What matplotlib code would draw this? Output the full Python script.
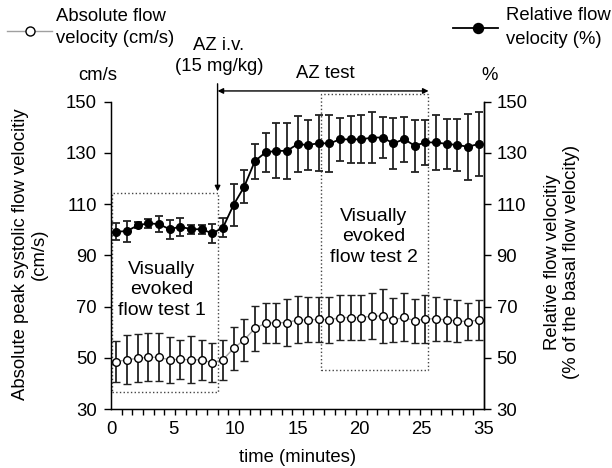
"""
Flow velocity before / after AZ i.v. (absolute and relative), with error bars
"""

import numpy as np
import matplotlib
matplotlib.use('Agg')
import matplotlib.pyplot as plt
from matplotlib.patches import Rectangle
from matplotlib.lines import Line2D

plt.rcParams['font.family'] = ['Liberation Sans', 'DejaVu Sans']

# Data, one sample per minute slot
minutes = np.arange(0.5, 35, 1.0)
abs_mean = [48.5, 49.2, 49.8, 50.2, 50.2, 49.2, 49.4, 49.2, 49.2, 48.1, 49.2,
            53.7, 57.0, 61.5, 63.5, 63.7, 63.7, 64.8, 64.8, 65.0, 64.8, 65.7,
            65.7, 65.7, 66.3, 66.3, 64.8, 65.8, 64.4, 65.2, 65.2, 64.8, 64.4,
            64.1, 64.8]
abs_err = [7.9, 9.6, 9.3, 9.3, 9.4, 9.1, 7.7, 9.2, 7.7, 7.7, 7.7,
           8.5, 8.1, 8.9, 7.9, 7.8, 9.2, 9.2, 8.8, 8.8, 9.1, 8.8,
           8.8, 8.9, 8.9, 10.4, 8.5, 9.4, 8.5, 9.3, 8.6, 8.3, 8.3,
           7.3, 7.9]
rel_mean = [99.2, 99.5, 101.7, 102.5, 102.2, 100.2, 101.2, 100.2, 100.2, 98.6,
            100.8, 109.7, 116.8, 126.8, 130.2, 130.8, 130.8, 133.4, 133.1, 133.8,
            133.7, 135.3, 135.3, 135.3, 136.0, 136.0, 133.7, 135.4, 132.8, 134.1,
            134.1, 133.5, 133.1, 132.4, 133.5]
rel_err = [3.4, 4.1, 1.2, 1.8, 3.0, 3.7, 3.5, 1.8, 1.8, 3.6,
           3.8, 8.1, 6.4, 6.8, 7.6, 10.7, 11.0, 11.0, 9.8, 11.0,
           11.2, 8.3, 9.3, 9.4, 9.9, 8.0, 9.8, 8.8, 10.2, 8.8,
           10.7, 9.8, 10.1, 12.9, 12.6]

x_tick_labels = ['0', '5', '10', '15', '20', '25', '35']
y_ticks = [30, 50, 70, 90, 110, 130, 150]

# Event / test windows (x in minute slots, y in axis units)
az_time = 10.0
az_test_end = 29.8
test1_box = (0.12, 36.8, 10.0, 114.5)   # x0, y0, x1, y1
test2_box = (19.66, 45.2, 29.7, 152.9)

FS = 13.3
W, H = 612, 468

fig = plt.figure(figsize=(W / 100, H / 100), dpi=100)
ax = fig.add_axes([111 / W, 1 - 409 / H, (484 - 111) / W, (409 - 101.7) / H])

# Series
ax.errorbar(minutes, abs_mean, yerr=abs_err, fmt='-o', color='#a0a0a0', lw=1.0,
            ecolor='#222222', elinewidth=1.3, capsize=3.2, capthick=1.3,
            marker='o', ms=5.5, mfc='white', mec='black', mew=1.0, zorder=3)
ax.errorbar(minutes, rel_mean, yerr=rel_err, fmt='-o', color='black', lw=1.3,
            ecolor='#222222', elinewidth=1.3, capsize=3.2, capthick=1.3,
            marker='o', ms=5.5, mfc='black', mec='black', zorder=4)

# Dotted test boxes
for x0, y0, x1, y1 in (test1_box, test2_box):
    ax.add_patch(Rectangle((x0, y0), x1 - x0, y1 - y0, fill=False, ls=':',
                           lw=1.0, ec='#444444', clip_on=False, zorder=1))

ax.text((test1_box[0] + test1_box[2]) / 2 - 0.3, 76.5, 'Visually\nevoked\nflow test 1',
        ha='center', va='center', fontsize=14, linespacing=1.28)
ax.text((test2_box[0] + test2_box[2]) / 2, 97.3, 'Visually\nevoked\nflow test 2',
        ha='center', va='center', fontsize=14, linespacing=1.28)

# AZ injection arrow and AZ test span
ax.annotate('', xy=(az_time, test1_box[3] + 0.5), xytext=(az_time, 157.0),
            arrowprops=dict(arrowstyle='-|>', color='black', lw=1.0,
                            mutation_scale=8, shrinkA=0, shrinkB=0),
            annotation_clip=False)
ax.annotate('', xy=(az_test_end, 154.2), xytext=(az_time, 154.2),
            arrowprops=dict(arrowstyle='<|-|>', color='black', lw=1.0,
                            mutation_scale=8, shrinkA=0, shrinkB=0),
            annotation_clip=False)

# Axes
ax.set_xlim(0, 35)
ax.set_ylim(30, 150)
ax.set_xticks(np.linspace(0, 35, 7))
ax.set_xticklabels(x_tick_labels)
ax.set_xticks(np.arange(0, 36), minor=True)
ax.set_yticks(y_ticks)
ax.tick_params(axis='x', which='major', length=0, pad=9, labelsize=FS)
ax.tick_params(axis='x', which='minor', length=4, width=1.0, direction='out')
ax.tick_params(axis='y', length=5, width=1.0, pad=5, labelsize=FS)
ax.spines['top'].set_visible(False)
for s in ('left', 'bottom', 'right'):
    ax.spines[s].set_linewidth(1.0)

ax2 = ax.twinx()
ax2.set_ylim(30, 150)
ax2.set_yticks(y_ticks)
ax2.tick_params(axis='y', length=5, width=1.0, pad=4, labelsize=FS)
ax2.spines['top'].set_visible(False)
ax2.spines['right'].set_linewidth(1.0)

# Axis titles
fig.text(298 / W, 1 - 458 / H, 'time (minutes)', ha='center', va='center', fontsize=FS)
fig.text(30 / W, 1 - 254 / H, 'Absolute peak systolic flow velocitiy\n(cm/s)',
         rotation=90, ha='center', va='center', fontsize=FS, linespacing=1.1)
fig.text(562 / W, 1 - 262 / H, 'Relative flow velocitiy\n(% of the basal flow velocity)',
         rotation=90, ha='center', va='center', fontsize=FS, linespacing=1.1)
fig.text(98 / W, 1 - 75 / H, 'cm/s', ha='center', va='center', fontsize=FS)
fig.text(490 / W, 1 - 75 / H, '%', ha='center', va='center', fontsize=FS)

# Annotations above the plot
fig.text(219 / W, 1 - 45 / H, 'AZ i.v.', ha='center', va='center', fontsize=FS)
fig.text(219 / W, 1 - 67 / H, '(15 mg/kg)', ha='center', va='center', fontsize=FS)
fig.text(325 / W, 1 - 73 / H, 'AZ test', ha='center', va='center', fontsize=FS)

# Hand-made legends
fig.add_artist(Line2D([7 / W, 52 / W], [1 - 30.5 / H, 1 - 30.5 / H], color='#a0a0a0', lw=1.0,
                      transform=fig.transFigure))
fig.add_artist(Line2D([30 / W], [1 - 30.5 / H], marker='o', ms=6.5, mfc='white', mec='black',
                      mew=1.0, transform=fig.transFigure))
fig.text(56 / W, 1 - 16.5 / H, 'Absolute flow', ha='left', va='center', fontsize=FS)
fig.text(56 / W, 1 - 38.5 / H, 'velocity (cm/s)', ha='left', va='center', fontsize=FS)

fig.add_artist(Line2D([453 / W, 498 / W], [1 - 27.5 / H, 1 - 27.5 / H], color='black', lw=1.3,
                      transform=fig.transFigure))
fig.add_artist(Line2D([478 / W], [1 - 27.5 / H], marker='o', ms=7.2, mfc='black', mec='black',
                      transform=fig.transFigure))
fig.text(506 / W, 1 - 15.5 / H, 'Relative flow', ha='left', va='center', fontsize=FS)
fig.text(506 / W, 1 - 39 / H, 'velocity (%)', ha='left', va='center', fontsize=FS)

plt.savefig('out.png', dpi=100)
